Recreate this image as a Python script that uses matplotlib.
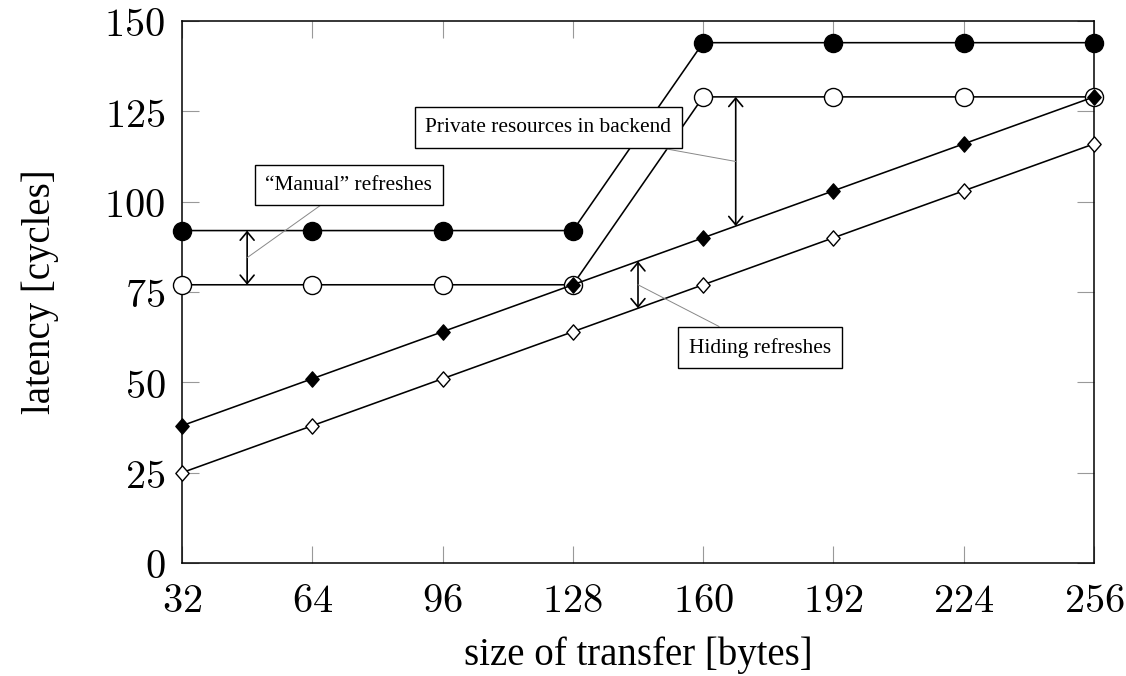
import numpy as np
import matplotlib
matplotlib.use("Agg")
import matplotlib.pyplot as plt
from matplotlib.path import Path
from matplotlib.patches import FancyArrowPatch

# ---- data ----
sizes = [32, 64, 96, 128, 160, 192, 224, 256]
manual_refresh = [92, 92, 92, 92, 144, 144, 144, 144]      # filled circles
private_backend = [77, 77, 77, 77, 129, 129, 129, 129]     # open circles
hiding_refresh = [38, 51, 64, 77, 90, 103, 116, 129]       # filled diamonds
ideal = [25, 38, 51, 64, 77, 90, 103, 116]                 # open diamonds
yticks = [0, 25, 50, 75, 100, 125, 150]

plt.rcParams['mathtext.fontset'] = 'cm'
serif = ['Liberation Serif', 'DejaVu Serif']

fig = plt.figure(figsize=(11.26, 6.76), dpi=100)
W, H = 1126, 676
ax = fig.add_axes([182 / W, (H - 563) / H, 912 / W, 542 / H])

diamond = Path([(0, 1), (0.87, 0), (0, -1), (-0.87, 0), (0, 1)],
               [Path.MOVETO, Path.LINETO, Path.LINETO, Path.LINETO, Path.CLOSEPOLY])

lw = 1.15
ax.plot(sizes, manual_refresh, color='black', lw=lw, marker='o', ms=13,
        mfc='black', mec='black', mew=1, clip_on=False, zorder=3)
ax.plot(sizes, private_backend, color='black', lw=lw, marker='o', ms=13,
        mfc='white', mec='black', mew=1, clip_on=False, zorder=3)
ax.plot(sizes, hiding_refresh, color='black', lw=lw, marker=diamond, ms=11,
        mfc='black', mec='black', mew=1, clip_on=False, zorder=4)
ax.plot(sizes, ideal, color='black', lw=lw, marker=diamond, ms=11,
        mfc='white', mec='black', mew=1, clip_on=False, zorder=4)

ax.set_xlim(32, 256)
ax.set_ylim(0, 150)
ax.set_xticks(sizes)
ax.set_xticklabels([f"${s}$" for s in sizes])
ax.set_yticks(yticks)
ax.set_yticklabels([f"${v}$" for v in yticks])
ax.tick_params(axis='both', direction='in', length=12, width=0.8, color='#999999',
               labelsize=29, top=True, right=True)
ax.tick_params(axis='x', pad=13)
ax.tick_params(axis='y', pad=12)
for s in ax.spines.values():
    s.set_linewidth(1.1)

ax.set_xlabel('size of transfer [bytes]', fontsize=28, family=serif, va='center')
ax.set_ylabel('latency [cycles]', fontsize=28, family=serif, va='center')
ax.xaxis.set_label_coords(0.5, (563 - 655) / 542)
ax.yaxis.set_label_coords((40 - 182) / 912, 0.5)

# ---- annotations ----
def gap_arrow(x, upper, lower):
    yu = np.interp(x, sizes, upper)
    yl = np.interp(x, sizes, lower)
    arr = FancyArrowPatch((x, yu), (x, yl), arrowstyle='<->,head_length=0.6,head_width=0.5',
                          mutation_scale=10, color='black', lw=1.2,
                          shrinkA=0, shrinkB=0, zorder=5)
    ax.add_patch(arr)
    return x, (yu + yl) / 2

def label(text, anchor, box_xy):
    ax.annotate(text, xy=anchor, xytext=box_xy, textcoords='data',
                ha='center', va='center', fontsize=15.4, family=serif, zorder=6,
                bbox=dict(boxstyle='square,pad=0.5', fc='white', ec='black', lw=1),
                arrowprops=dict(arrowstyle='-', color='#888888', lw=0.7,
                                shrinkA=0, shrinkB=0))

m1 = gap_arrow(48, manual_refresh, private_backend)
label('\u201cManual\u201d refreshes', m1, (73.0, 104.6))
m2 = gap_arrow(168, private_backend, hiding_refresh)
label('Private resources in backend', m2, (122.0, 120.5))
m3 = gap_arrow(144, hiding_refresh, ideal)
label('Hiding refreshes', m3, (174.0, 59.6))

fig.savefig('out.png', dpi=100)
